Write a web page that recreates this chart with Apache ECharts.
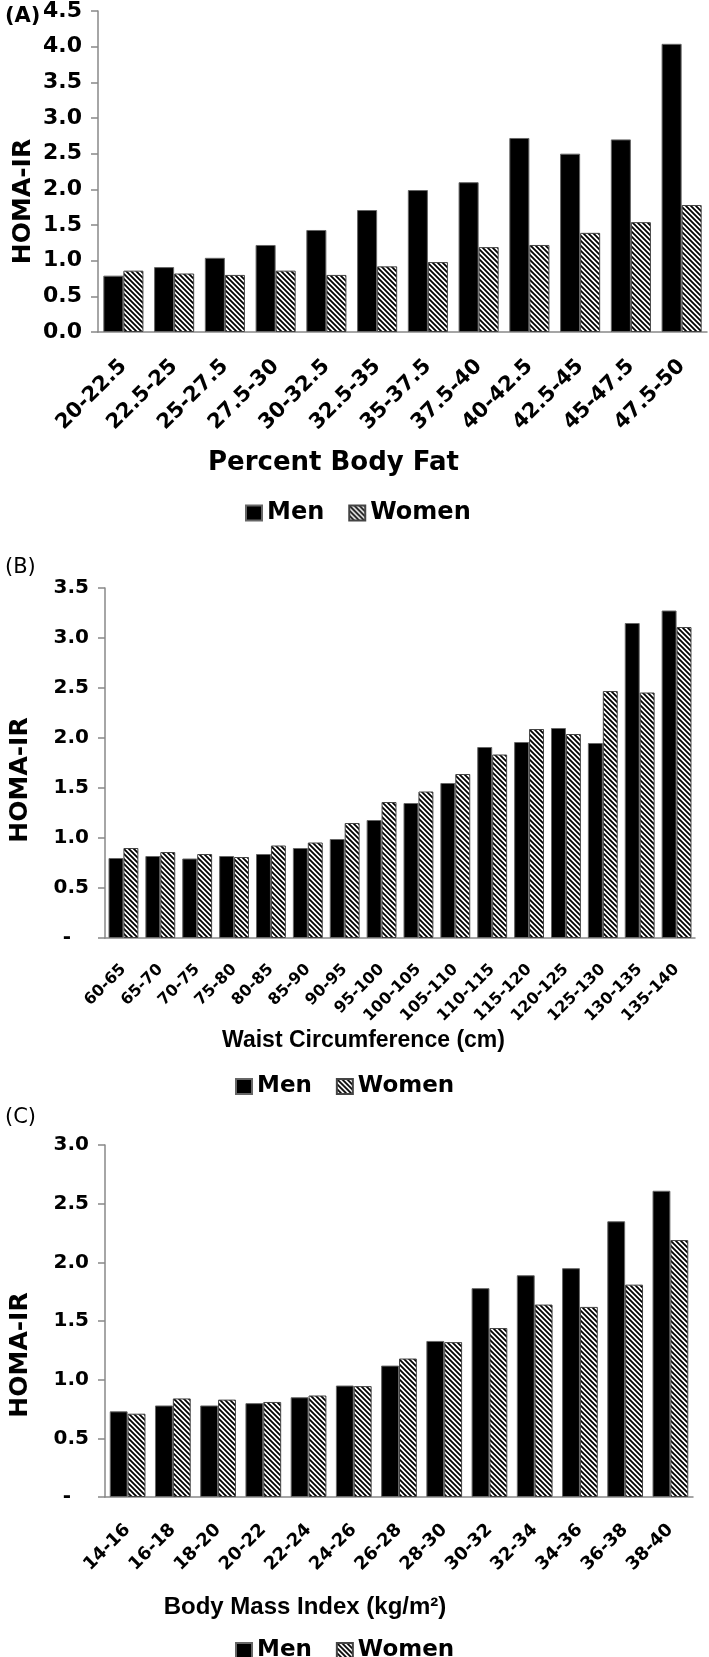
<!DOCTYPE html>
<html><head><meta charset="utf-8">
<script src="https://cdn.jsdelivr.net/npm/echarts@6/dist/echarts.min.js"></script>
<style>html,body{margin:0;padding:0;background:#fff;}.p{position:absolute;left:0;width:709px;}</style>
</head><body>
<div id="a" class="p" style="top:0;height:540px"></div>
<div id="b" class="p" style="top:540px;height:560px"></div>
<div id="c" class="p" style="top:1100px;height:557px"></div>
<script>
const seriesNames = ['Men', 'Women'];
const catsA = ['20-22.5','22.5-25','25-27.5','27.5-30','30-32.5','32.5-35','35-37.5','37.5-40','40-42.5','42.5-45','45-47.5','47.5-50'];
const menA = [0.79,0.91,1.04,1.22,1.43,1.71,1.99,2.10,2.72,2.50,2.70,4.04];
const womenA = [0.86,0.82,0.80,0.86,0.80,0.92,0.98,1.19,1.22,1.39,1.54,1.78];
const catsB = ['60-65','65-70','70-75','75-80','80-85','85-90','90-95','95-100','100-105','105-110','110-115','115-120','120-125','125-130','130-135','135-140'];
const menB = [0.80,0.82,0.795,0.82,0.84,0.90,0.99,1.18,1.35,1.55,1.91,1.96,2.10,1.95,3.15,3.275];
const womenB = [0.90,0.86,0.84,0.81,0.925,0.955,1.15,1.36,1.465,1.64,1.835,2.09,2.04,2.47,2.455,3.11];
const catsC = ['14-16','16-18','18-20','20-22','22-24','24-26','26-28','28-30','30-32','32-34','34-36','36-38','38-40'];
const menC = [0.73,0.78,0.78,0.80,0.85,0.95,1.12,1.33,1.78,1.89,1.95,2.35,2.61];
const womenC = [0.71,0.84,0.83,0.81,0.865,0.945,1.18,1.32,1.44,1.64,1.62,1.81,2.19];
const panelLabels = ['(A)', '(B)', '(C)'];
const xTitles = ['Percent Body Fat', 'Waist Circumference (cm)', 'Body Mass Index (kg/m²)'];
const yTitle = 'HOMA-IR';
const yMax = [4.5, 3.5, 3.0];
const yStep = 0.5;

const FF = 'DejaVu Sans';
const FN = 'Liberation Sans';
function hatch(){
  const s = 5, c = document.createElement('canvas'); c.width = s; c.height = s;
  const g = c.getContext('2d'); g.fillStyle = '#fff'; g.fillRect(0,0,s,s);
  g.strokeStyle = '#000'; g.lineWidth = 1.8; g.beginPath();
  g.moveTo(-1,-1); g.lineTo(s+1,s+1);
  g.moveTo(-1,s-1); g.lineTo(1,s+1);
  g.moveTo(s-1,-1); g.lineTo(s+1,1);
  g.stroke(); return c;
}
const pat = {image: hatch(), repeat: 'repeat'};

function build(cfg){
  return {
    animation: false,
    title: {text: cfg.label, left: 0, top: cfg.labelTop, textStyle: {fontFamily: FF, fontSize: cfg.labelSize, fontWeight: cfg.labelWeight, color: '#000'}},
    legend: {data: seriesNames, icon: 'rect', left: cfg.legendLeft, top: cfg.legendTop, itemWidth: 16, itemHeight: 15, itemGap: 24,
      textStyle: {fontFamily: FF, fontSize: cfg.legendSize, fontWeight: 'bold', color: '#000'}},
    grid: {left: cfg.grid[0], right: cfg.grid[1], top: cfg.grid[2], bottom: cfg.grid[3]},
    xAxis: {type: 'category', data: cfg.cats,
      name: cfg.xTitle, nameLocation: 'middle', nameGap: cfg.xNameGap, nameMoveOverlap: false,
      nameTextStyle: {fontFamily: cfg.xNameFont, fontSize: cfg.xNameSize, fontWeight: 'bold', color: '#000', padding: [0, cfg.xNameShift, 0, 0]},
      axisLine: {lineStyle: {color: '#888', width: 1.5}},
      axisTick: {length: cfg.xTickLen, lineStyle: {color: '#888', width: 1.5}, interval: 0},
      axisLabel: {interval: 0, rotate: 45, margin: cfg.xLabMargin, fontFamily: FF, fontSize: cfg.xLabSize, fontWeight: 'bold', color: '#000'}},
    yAxis: {type: 'value', min: 0, max: cfg.yMax, interval: yStep,
      name: yTitle, nameLocation: 'middle', nameGap: cfg.yNameGap, nameMoveOverlap: false,
      nameTextStyle: {fontFamily: FF, fontSize: 25, fontWeight: 'bold', color: '#000', padding: [0, cfg.yNameShift, 0, 0]},
      axisLine: {show: true, lineStyle: {color: '#888', width: 1.5}},
      axisTick: {show: true, length: 7, lineStyle: {color: '#888', width: 1.5}},
      splitLine: {show: false},
      axisLabel: {margin: 16, fontFamily: FF, fontSize: cfg.yLabSize, fontWeight: 'bold', color: '#000',
        formatter: v => (v === 0 && cfg.dash) ? '{d|-}' : v.toFixed(1),
        rich: {d: {fontFamily: FF, fontSize: cfg.yLabSize, fontWeight: 'bold', color: '#000', padding: [0, 18, 0, 0]}}}},
    series: [
      {name: seriesNames[0], type: 'bar', data: cfg.men, barGap: '0%', barCategoryGap: cfg.gap,
       itemStyle: {color: '#000', borderColor: '#666', borderWidth: 1}},
      {name: seriesNames[1], type: 'bar', data: cfg.women, barGap: '0%', barCategoryGap: cfg.gap,
       itemStyle: {color: pat, borderColor: '#444', borderWidth: 1}}
    ]
  };
}

const cA = echarts.init(document.getElementById('a'));
cA.setOption(build({label: panelLabels[0], labelTop: 1, labelSize: 21, labelWeight: 'bold',
  legendLeft: 240, legendTop: 496, legendSize: 24,
  grid: [98, 2, 10, 208], cats: catsA, men: menA, women: womenA, gap: '21%',
  xTitle: xTitles[0], xNameFont: FF, xNameGap: 118, xNameSize: 26, xNameShift: 138, xTickLen: 9, xLabMargin: 31, xLabSize: 21,
  yMax: yMax[0], yNameGap: 62, yNameShift: 60, yLabSize: 22, dash: false}));

const cB = echarts.init(document.getElementById('b'));
cB.setOption(build({label: panelLabels[1], labelTop: 12, labelSize: 21, labelWeight: 'normal',
  legendLeft: 230, legendTop: 530, legendSize: 23,
  grid: [100, 14, 48, 162], cats: catsB, men: menB, women: womenB, gap: '19%',
  xTitle: xTitles[1], xNameFont: FN, xNameGap: 91, xNameSize: 23, xNameShift: 73, xTickLen: 6, xLabMargin: 29, xLabSize: 16,
  yMax: yMax[1], yNameGap: 72, yNameShift: 34, yLabSize: 20, dash: true}));

const cC = echarts.init(document.getElementById('c'));
cC.setOption(build({label: panelLabels[2], labelTop: 2, labelSize: 21, labelWeight: 'normal',
  legendLeft: 230, legendTop: 534, legendSize: 23,
  grid: [102, 16, 45, 160], cats: catsC, men: menC, women: womenC, gap: '21%',
  xTitle: xTitles[2], xNameFont: FN, xNameGap: 98, xNameSize: 24, xNameShift: 188, xTickLen: 7, xLabMargin: 30, xLabSize: 18,
  yMax: yMax[2], yNameGap: 72, yNameShift: 68, yLabSize: 20, dash: true}));
</script>
</body></html>
